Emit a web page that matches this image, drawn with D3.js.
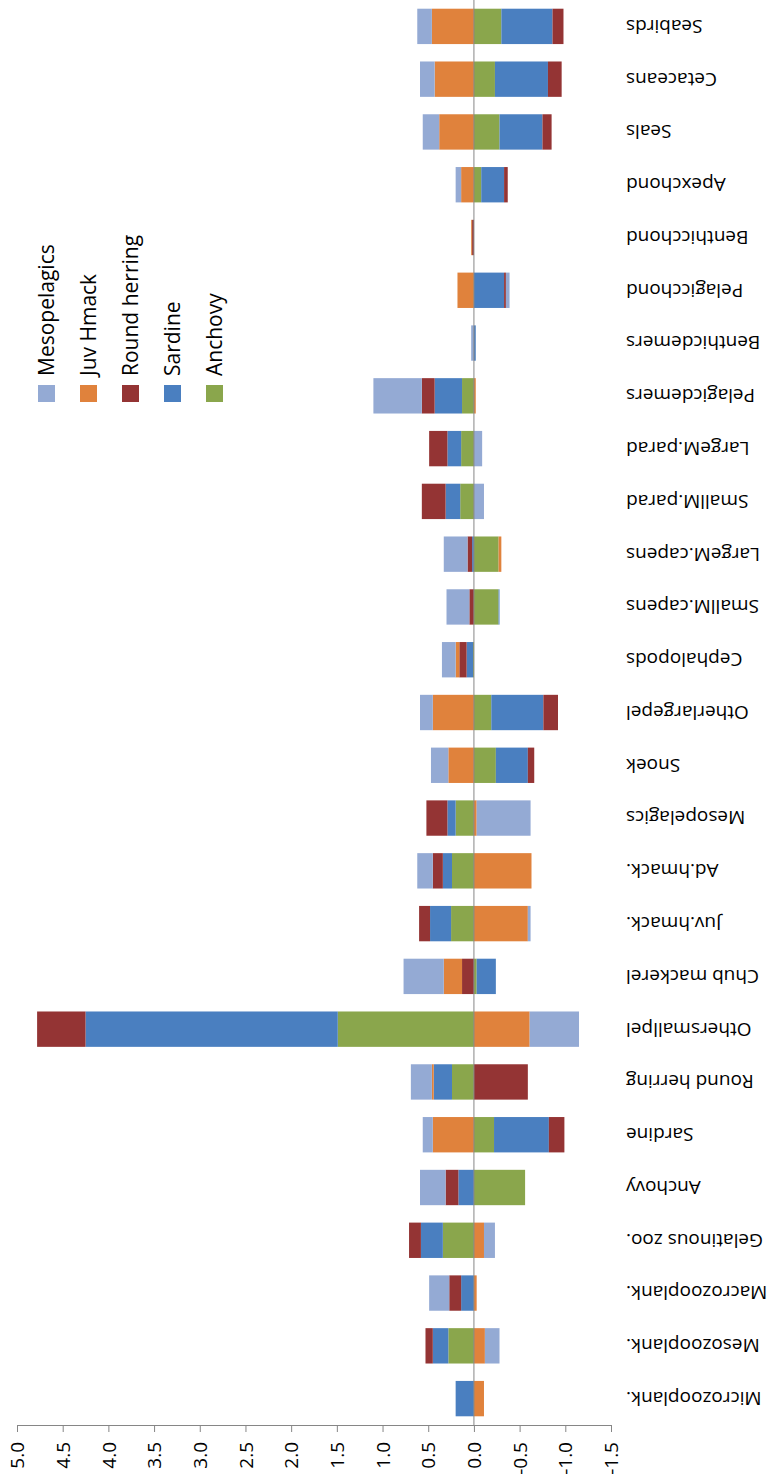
<!DOCTYPE html>
<html>
<head>
<meta charset="UTF-8">
<script src="https://d3js.org/d3.v7.min.js"></script>
<style>
  body { margin: 0; background: #fff; }
  text { font-family: "Open Sans", "DejaVu Sans", sans-serif; fill: #000; }
</style>
</head>
<body>
<svg id="chart" width="779" height="1483"></svg>
<script>
// categories, bottom to top
var categories = ["Microzooplank.", "Mesozooplank.", "Macrozooplank.", "Gelatinous zoo.", "Anchovy", "Sardine",
  "Round herring", "Othersmallpel", "Chub mackerel", "Juv.hmack.", "Ad.hmack.", "Mesopelagics", "Snoek",
  "Otherlargepel", "Cephalopods", "SmallM.capens", "LargeM.capens", "SmallM.parad", "LargeM.parad",
  "Pelagicdemers", "Benthicdemers", "Pelagicchond", "Benthicchond", "Apexchond", "Seals", "Cetaceans", "Seabirds"];

var keys = ["Anchovy", "Sardine", "Round herring", "Juv Hmack", "Mesopelagics"];
var colors = ["#8aa64c", "#4a7fc0", "#943434", "#e0823c", "#94aad4"];

var anchovy      = [0, 0.28, 0, 0.34, -0.56, -0.22, 0.24, 1.49, -0.03, 0.25, 0.24, 0.2, -0.24, -0.19, 0.01, -0.27, -0.27, 0.15, 0.14, 0.13, 0, 0, 0, -0.08, -0.28, -0.23, -0.3];
var sardine      = [0.2, 0.17, 0.14, 0.24, 0.17, -0.6, 0.2, 2.76, -0.21, 0.23, 0.1, 0.09, -0.35, -0.57, 0.07, -0.01, 0.02, 0.16, 0.15, 0.3, -0.02, -0.33, 0, -0.25, -0.47, -0.58, -0.56];
var roundHerring = [0, 0.08, 0.13, 0.13, 0.14, -0.17, -0.59, 0.53, 0.13, 0.12, 0.11, 0.23, -0.07, -0.16, 0.08, 0.05, 0.05, 0.26, 0.2, 0.14, 0, -0.02, 0.02, -0.04, -0.1, -0.15, -0.12];
var juvHmack     = [-0.11, -0.12, -0.03, -0.11, 0, 0.45, 0.02, -0.61, 0.2, -0.59, -0.63, -0.03, 0.28, 0.45, 0.04, 0, -0.03, 0, 0, -0.02, 0, 0.18, 0.01, 0.14, 0.38, 0.43, 0.46];
var mesopelagics = [0, -0.16, 0.22, -0.12, 0.28, 0.11, 0.23, -0.54, 0.44, -0.03, 0.17, -0.59, 0.19, 0.14, 0.15, 0.25, 0.26, -0.11, -0.09, 0.53, 0.03, -0.04, 0, 0.06, 0.18, 0.16, 0.16];

var ticks = [5.0, 4.5, 4.0, 3.5, 3.0, 2.5, 2.0, 1.5, 1.0, 0.5, 0.0, -0.5, -1.0, -1.5];

var series = [anchovy, sardine, roundHerring, juvHmack, mesopelagics];
var table = categories.map(function (c, i) {
  var row = { cat: c };
  keys.forEach(function (k, j) { row[k] = series[j][i]; });
  return row;
});

var svg = d3.select("#chart");
var plotTop = 0, plotBottom = 1425;

var x = d3.scaleLinear().domain([5, -1.5]).range([17, 611]);
var y = d3.scaleBand().domain(categories.slice().reverse()).range([plotTop, plotBottom]).paddingInner(0.33).paddingOuter(0.165);

var stacked = d3.stack().keys(keys).offset(d3.stackOffsetDiverging)(table);

svg.append("g").selectAll("g").data(stacked).join("g")
  .attr("fill", function (d, i) { return colors[i]; })
  .selectAll("rect").data(function (d) { return d; }).join("rect")
  .attr("x", function (d) { return Math.min(x(d[0]), x(d[1])); })
  .attr("width", function (d) { return Math.abs(x(d[0]) - x(d[1])); })
  .attr("y", function (d) { return y(d.data.cat); })
  .attr("height", y.bandwidth());

// value axis (plain hyphen for minus, like the original)
var fmt = d3.format(".1f");
var axis = svg.append("g").attr("transform", "translate(0," + plotBottom + ")")
  .call(d3.axisBottom(x).tickValues(ticks).tickSize(7).tickSizeOuter(0)
    .tickFormat(function (d) { return fmt(d).replace("\u2212", "-"); }));
axis.select(".domain").attr("stroke", "#868686");
axis.selectAll(".tick line").attr("stroke", "#868686");
axis.selectAll(".tick text")
  .attr("transform", "translate(0,17) rotate(-90)")
  .attr("x", 0).attr("y", 0).attr("dy", "0.35em")
  .attr("text-anchor", "end")
  .style("font-size", "19px")
  .style("font-family", "'Open Sans', sans-serif");

// zero line
svg.append("line")
  .attr("x1", x(0)).attr("x2", x(0))
  .attr("y1", plotTop).attr("y2", plotBottom)
  .attr("stroke", "#868686");

// category labels, upside down
svg.append("g").selectAll("text").data(categories).join("text")
  .attr("transform", function (d) { return "translate(626," + (y(d) + y.bandwidth() / 2) + ") rotate(180)"; })
  .attr("text-anchor", "end")
  .attr("dy", "0.35em")
  .style("font-size", "19px")
  .text(function (d) { return d; });

// legend
var legendKeys = keys.slice().reverse();
var legendColors = colors.slice().reverse();
var legend = svg.append("g").selectAll("g").data(legendKeys).join("g")
  .attr("transform", function (d, i) { return "translate(" + (38 + i * 42) + ",0)"; });
legend.append("rect")
  .attr("x", 0).attr("y", 385).attr("width", 17).attr("height", 17)
  .attr("fill", function (d, i) { return legendColors[i]; });
legend.append("text")
  .attr("transform", "translate(8.5,376) rotate(-90)")
  .attr("dy", "0.35em")
  .style("font-size", "21px")
  .text(function (d) { return d; });
</script>
</body>
</html>
